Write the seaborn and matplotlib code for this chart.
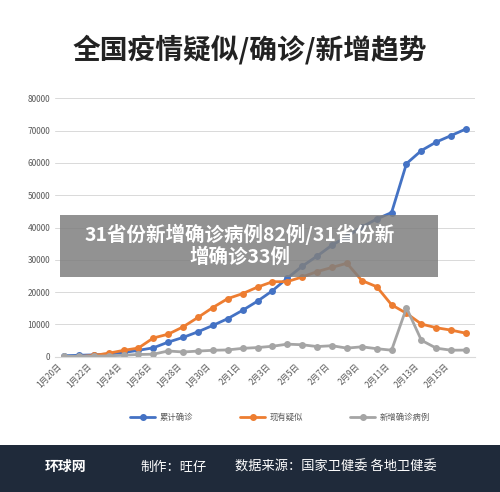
import matplotlib.pyplot as plt
import seaborn as sns
import pandas as pd
from matplotlib.patches import Rectangle

dates = [f"1月{d}日" for d in range(20, 32)] + [f"2月{d}日" for d in range(1, 17)]
confirmed = [291, 440, 571, 830, 1287, 1975, 2744, 4515, 5974, 7711, 9692, 11791, 14380, 17205,
             20438, 24324, 28018, 31161, 34546, 37198, 40171, 42638, 44653, 59804, 63851, 66492, 68500, 70548]
suspected = [54, 37, 393, 1072, 1965, 2684, 5794, 6973, 9239, 12167, 15238, 17988, 19544, 21558,
             23214, 23260, 24702, 26359, 27657, 28942, 23589, 21675, 16067, 13435, 10109, 8969, 8228, 7264]
new_cases = [77, 149, 131, 259, 444, 688, 769, 1771, 1459, 1737, 1982, 2102, 2590, 2829,
             3235, 3887, 3694, 3143, 3399, 2656, 3062, 2478, 2015, 15152, 5090, 2641, 2009, 2048]
names = ["累计确诊", "现有疑似", "新增确诊病例"]

df = pd.DataFrame({"日期": list(range(len(dates))) * 3,
                   "人数": confirmed + suspected + new_cases,
                   "系列": [n for n in names for _ in dates]})

sns.set_style("white")
plt.rcParams['font.family'] = ['Noto Sans CJK SC', 'DejaVu Sans']

fig = plt.figure(figsize=(5, 4.92), dpi=100)
ax = fig.add_axes([0.11, 0.275, 0.84, 0.525])
palette = ["#4472c4", "#ed7d31", "#a5a5a5"]
sns.lineplot(data=df, x="日期", y="人数", hue="系列", palette=palette, marker="o",
             markersize=5, markeredgewidth=0, linewidth=2, ax=ax, legend=False)
ax.set_ylim(0, 80000)
ax.set_xlim(-0.6, 27.6)
ax.set_yticks(range(0, 80001, 10000))
ax.tick_params(axis='y', labelsize=6, colors="#595959", length=0)
ax.set_xticks(range(0, 28, 2))
ax.set_xticklabels(dates[::2], rotation=45, ha='right', fontsize=6, color="#595959")
ax.tick_params(axis='x', length=0)
ax.grid(axis='y', color="#d9d9d9", linewidth=0.7)
for s in ["top", "right", "left"]:
    ax.spines[s].set_visible(False)
ax.spines["bottom"].set_color("#d9d9d9")
ax.set_xlabel("")
ax.set_ylabel("")

fig.text(0.5, 0.9, "全国疫情疑似/确诊/新增趋势", ha='center', va='center',
         fontsize=20, fontweight='bold', color="#222222")

# legend
for i, (n, c) in enumerate(zip(names, palette)):
    x0 = 0.26 + i * 0.22
    fig.add_artist(plt.Line2D([x0, x0 + 0.025, x0 + 0.05], [0.152] * 3, color=c, lw=2,
                              marker="o", markersize=4, markevery=[1]))
    fig.text(x0 + 0.06, 0.152, n, fontsize=6, va='center', color="#595959")

# banner
fig.add_artist(Rectangle((0.12, 0.438), 0.756, 0.126, transform=fig.transFigure,
                         facecolor="#7f7f7f", alpha=0.85, edgecolor='none'))
fig.text(0.48, 0.501, "31省份新增确诊病例82例/31省份新\n增确诊33例", ha='center', va='center',
         fontsize=14, fontweight='bold', color="white", linespacing=1.15)

# footer
fig.add_artist(Rectangle((0, 0), 1, 0.095, transform=fig.transFigure,
                         facecolor="#1f2a3a", edgecolor='none'))
fig.text(0.09, 0.05, "环球网", fontsize=10, fontweight='bold', color="white", va='center')
fig.text(0.28, 0.05, "制作：旺仔", fontsize=9.5, color="white", va='center')
fig.text(0.47, 0.05, "数据来源：国家卫健委 各地卫健委", fontsize=9.5, color="white", va='center')

fig.savefig("out.png", dpi=100)
